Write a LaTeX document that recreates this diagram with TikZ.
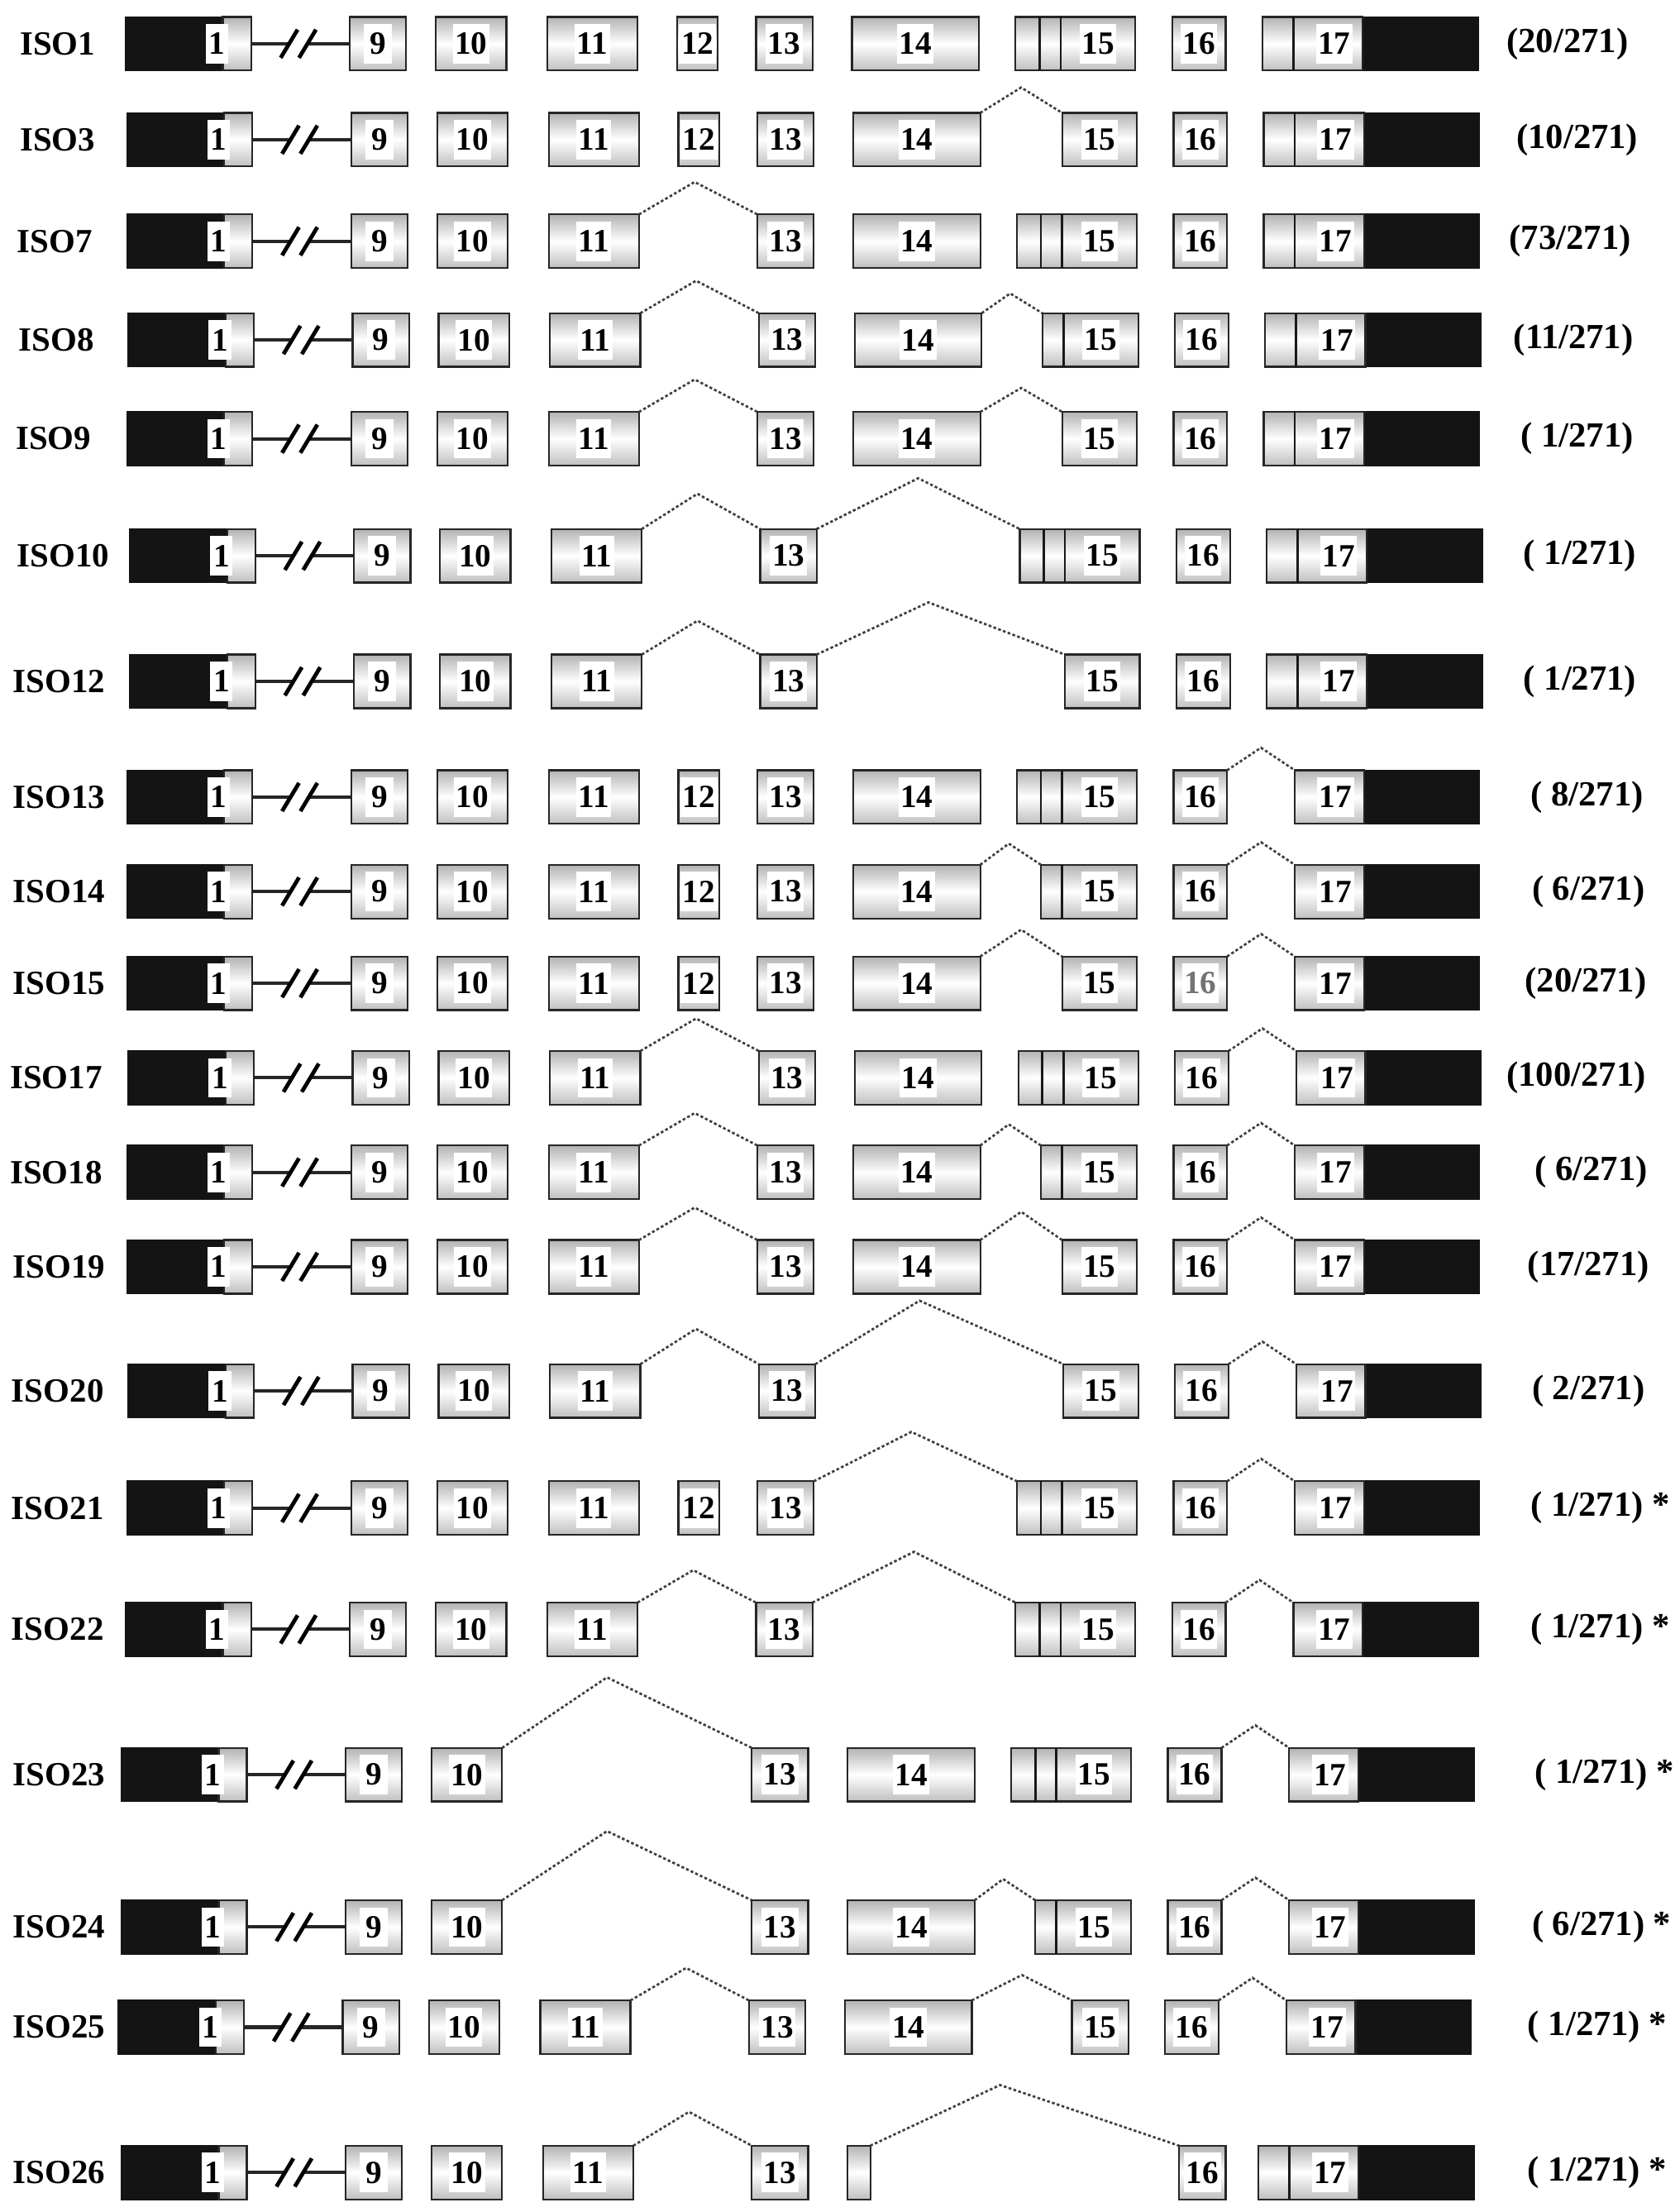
\documentclass[tikz,border=0pt]{standalone}
\usepackage{fontspec}
\setmainfont{Liberation Serif}
\usetikzlibrary{calc}
\tikzset{
  exon/.style={draw=black!85, line width=1.3pt, top color=gray!60, bottom color=gray!50, middle color=white, minimum height=38pt, inner sep=0pt, outer sep=0pt},
  utr/.style={fill=black!92, draw=black!92, line width=1pt, minimum height=38pt, inner sep=0pt, outer sep=0pt},
  lbl/.style={fill=white, inner sep=1.5pt, minimum height=28pt, minimum width=20pt, font=\bfseries\fontsize{23}{23}\selectfont},
  isolbl/.style={anchor=west, inner sep=0pt, font=\bfseries\fontsize{24}{24}\selectfont},
  cnt/.style={anchor=west, inner sep=0pt, font=\bfseries\fontsize{25}{25}\selectfont},
  splice/.style={draw=black!75, line width=1.6pt, dash pattern=on 2pt off 1.6pt},
  intron/.style={draw=black!85, line width=2.4pt},
  brk/.style={draw=black, line width=2.8pt},
  divider/.style={draw=black!90, line width=1.6pt},
}
\newcommand\setrow[3]{\def\rn{#1}\def\ry{#2}\def\rdx{#3}}
\newcommand\ex[4]{%
  \pgfmathsetmacro\xxW{#3-#2}%
  \pgfmathsetmacro\xxC{(#2+#3)/2+\rdx}%
  \node[exon, minimum width=\xxW pt] (\rn-#1) at (\xxC,\ry) {};
  \if\relax\detokenize{#4}\relax\else\node[lbl] (\rn-#1-t) at (\rn-#1) {#4};\fi
}
\newcommand\exone{%
  \pgfmathsetmacro\xxC{133.5+\rdx}%
  \node[utr, minimum width=89pt] (\rn-1) at (\xxC,\ry) {};
  \path[exon] ([xshift=-20pt]\rn-1.north east) rectangle (\rn-1.south east);
  \node[lbl, minimum width=16pt, inner sep=1pt] (\rn-1-t) at ([xshift=-24pt]\rn-1.east) {1};
}
\newcommand\exfif[1]{%
  \pgfmathsetmacro\xxW{805-#1}%
  \pgfmathsetmacro\xxC{(#1+805)/2+\rdx}%
  \node[exon, minimum width=\xxW pt] (\rn-15) at (\xxC,\ry) {};
  \ifdim #1pt<737pt \draw[divider] ({737+\rdx},{\ry-19}) -- ({737+\rdx},{\ry+19});\fi
  \ifdim #1pt<752pt \draw[divider] ({752+\rdx},{\ry-19}) -- ({752+\rdx},{\ry+19});\fi
  \pgfmathsetmacro\xxL{(max(#1,752)+805)/2+\rdx}%
  \node[lbl] (\rn-15-t) at (\xxL,\ry) {15};
}
\newcommand\exsev[1]{%
  \pgfmathsetmacro\xxW{1048-#1}%
  \pgfmathsetmacro\xxC{(#1+1048)/2+\rdx}%
  \node[utr, minimum width=\xxW pt] (\rn-17) at (\xxC,\ry) {};
  \path[exon] (\rn-17.north west) rectangle ([xshift=-82pt]\rn-17.south east);
  \ifdim #1pt<917pt \draw[divider] ({917+\rdx},{\ry-19}) -- ({917+\rdx},{\ry+19});\fi
  \node[lbl] (\rn-17-t) at ({946+\rdx},\ry) {17};
}
\newcommand\spl[4]{%
  \draw[splice] let \p1=(\rn-#1.north east), \p2=(\rn-#2.north west) in
    (\p1) -- ({\x1+#4*(\x2-\x1)},{\y1+#3pt}) -- (\p2);
}
\newcommand\rowbase[4]{%
  \node[isolbl] (\rn-name) at (#1,\ry) {#2};
  \exone
  \ex{9}{248}{288}{9}
  \ex{10}{309}{359}{10}
  \coordinate (\rn-s1) at ({205+\rdx},\ry);
  \coordinate (\rn-s2) at ({218+\rdx},\ry);
  \draw[intron] (\rn-1.east) -- (\rn-s1);
  \draw[intron] (\rn-s2) -- (\rn-9.west);
  \draw[brk] ([shift={(-6,10)}]\rn-s1) -- ([shift={(6,-10)}]\rn-s1);
  \draw[brk] ([shift={(-6,10)}]\rn-s2) -- ([shift={(6,-10)}]\rn-s2);
  \node[cnt] (\rn-cnt) at (#3,\ry) {#4};
}
\newcommand\eEleven{\ex{11}{388}{452}{11}}
\newcommand\eTwelve{\ex{12}{480}{509}{12}}
\newcommand\eThirteen{\ex{13}{536}{576}{13}}
\newcommand\eFourteen{\ex{14}{604}{694}{14}}
\newcommand\eSixteen{\ex{16}{831}{869}{16}}
\begin{document}
\begin{tikzpicture}[x=1pt,y=-1pt]
\useasboundingbox[fill=white] (0,0) rectangle (1191,1568);

% ISO1
\setrow{r1}{31}{0}
\rowbase{14}{ISO1}{1068}{(20/271)}
\eEleven \eTwelve \eThirteen \eFourteen \exfif{720} \eSixteen \exsev{895}

% ISO3
\setrow{r3}{99}{1}
\rowbase{14}{ISO3}{1075}{(10/271)}
\eEleven \eTwelve \eThirteen \eFourteen \exfif{752} \spl{14}{15}{18}{0.5} \eSixteen \exsev{895}

% ISO7
\setrow{r7}{171}{1}
\rowbase{12}{ISO7}{1070}{(73/271)}
\eEleven \eThirteen \spl{11}{13}{23}{0.47} \eFourteen \exfif{720} \eSixteen \exsev{895}

% ISO8
\setrow{r8}{241}{2}
\rowbase{13}{ISO8}{1073}{(11/271)}
\eEleven \eThirteen \spl{11}{13}{23}{0.47} \eFourteen \exfif{737} \spl{14}{15}{14}{0.47} \eSixteen \exsev{895}

% ISO9
\setrow{r9}{311}{1}
\rowbase{11}{ISO9}{1078}{( 1/271)}
\eEleven \eThirteen \spl{11}{13}{23}{0.47} \eFourteen \exfif{752} \spl{14}{15}{17}{0.5} \eSixteen \exsev{895}

% ISO10
\setrow{r10}{394}{3}
\rowbase{12}{ISO10}{1080}{( 1/271)}
\eEleven \eThirteen \spl{11}{13}{25}{0.47} \exfif{720} \spl{13}{15}{36}{0.5} \eSixteen \exsev{895}

% ISO12
\setrow{r12}{483}{3}
\rowbase{9}{ISO12}{1080}{( 1/271)}
\eEleven \eThirteen \spl{11}{13}{24}{0.47} \exfif{752} \spl{13}{15}{37}{0.45} \eSixteen \exsev{895}

% ISO13
\setrow{r13}{565}{1}
\rowbase{9}{ISO13}{1085}{( 8/271)}
\eEleven \eTwelve \eThirteen \eFourteen \exfif{720} \eSixteen \exsev{917} \spl{16}{17}{16}{0.5}

% ISO14
\setrow{r14}{632}{1}
\rowbase{9}{ISO14}{1086}{( 6/271)}
\eEleven \eTwelve \eThirteen \eFourteen \exfif{737} \spl{14}{15}{15}{0.47} \eSixteen \exsev{917} \spl{16}{17}{16}{0.5}

% ISO15
\setrow{r15}{697}{1}
\rowbase{9}{ISO15}{1081}{(20/271)}
\eEleven \eTwelve \eThirteen \eFourteen \exfif{752} \spl{14}{15}{19}{0.5}
\ex{16}{831}{869}{\color{black!55}16} \exsev{917} \spl{16}{17}{16}{0.5}

% ISO17
\setrow{r17}{764}{2}
\rowbase{7}{ISO17}{1068}{(100/271)}
\eEleven \eThirteen \spl{11}{13}{23}{0.47} \eFourteen \exfif{720} \eSixteen \exsev{917} \spl{16}{17}{16}{0.5}

% ISO18
\setrow{r18}{831}{1}
\rowbase{7}{ISO18}{1088}{( 6/271)}
\eEleven \eThirteen \spl{11}{13}{23}{0.47} \eFourteen \exfif{737} \spl{14}{15}{15}{0.47} \eSixteen \exsev{917} \spl{16}{17}{16}{0.5}

% ISO19
\setrow{r19}{898}{1}
\rowbase{9}{ISO19}{1083}{(17/271)}
\eEleven \eThirteen \spl{11}{13}{23}{0.47} \eFourteen \exfif{752} \spl{14}{15}{20}{0.5} \eSixteen \exsev{917} \spl{16}{17}{16}{0.5}

% ISO20
\setrow{r20}{986}{2}
\rowbase{8}{ISO20}{1086}{( 2/271)}
\eEleven \eThirteen \spl{11}{13}{25}{0.47} \exfif{752} \spl{13}{15}{45}{0.42} \eSixteen \exsev{917} \spl{16}{17}{16}{0.5}

% ISO21
\setrow{r21}{1069}{1}
\rowbase{8}{ISO21}{1085}{( 1/271) *}
\eEleven \eTwelve \eThirteen \exfif{720} \spl{13}{15}{35}{0.48} \eSixteen \exsev{917} \spl{16}{17}{16}{0.5}

% ISO22
\setrow{r22}{1155}{0}
\rowbase{8}{ISO22}{1085}{( 1/271) *}
\eEleven \eThirteen \spl{11}{13}{23}{0.47} \exfif{720} \spl{13}{15}{36}{0.5} \eSixteen \exsev{917} \spl{16}{17}{16}{0.5}

% ISO23
\setrow{r23}{1258}{-3}
\rowbase{9}{ISO23}{1088}{( 1/271) *}
\eThirteen \spl{10}{13}{50}{0.42} \eFourteen \exfif{720} \eSixteen \exsev{917} \spl{16}{17}{16}{0.5}

% ISO24
\setrow{r24}{1366}{-3}
\rowbase{9}{ISO24}{1086}{( 6/271) *}
\eThirteen \spl{10}{13}{49}{0.42} \eFourteen \exfif{737} \spl{14}{15}{15}{0.47} \eSixteen \exsev{917} \spl{16}{17}{16}{0.5}

% ISO25
\setrow{r25}{1437}{-5}
\rowbase{9}{ISO25}{1083}{( 1/271) *}
\eEleven \eThirteen \spl{11}{13}{23}{0.47} \eFourteen \exfif{765} \spl{14}{15}{18}{0.5} \eSixteen \exsev{917} \spl{16}{17}{16}{0.5}

% ISO26
\setrow{r26}{1540}{-3}
\rowbase{9}{ISO26}{1083}{( 1/271) *}
\eEleven \eThirteen \spl{11}{13}{24}{0.47}
\ex{14}{604}{620}{}
\ex{16}{839}{872}{16}
\spl{14}{16}{43}{0.42}
\exsev{895}
\end{tikzpicture}
\end{document}
